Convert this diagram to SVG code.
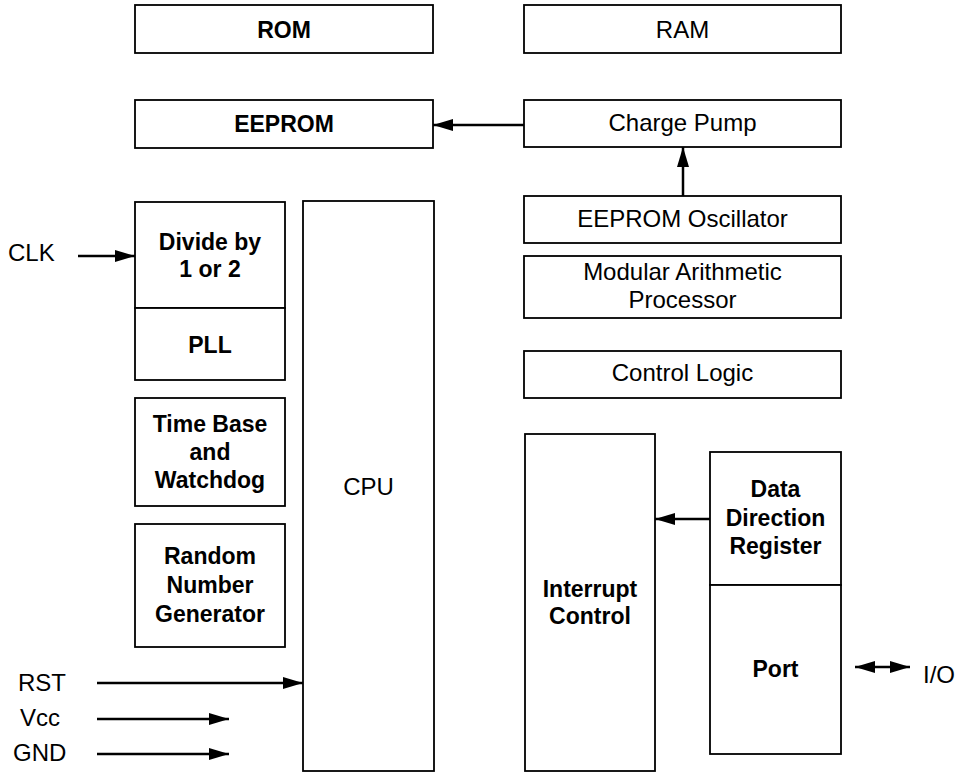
<svg xmlns="http://www.w3.org/2000/svg" width="963" height="773" viewBox="0 0 963 773">
<style>
.box{fill:#fff;stroke:#000;stroke-width:1.8}
.t{font-family:"Liberation Sans",Arial,sans-serif;font-size:23px;font-weight:bold;fill:#000;text-anchor:middle}
.tn{font-family:"Liberation Sans",Arial,sans-serif;font-size:24px;fill:#000;text-anchor:middle}
.lbl{font-family:"Liberation Sans",Arial,sans-serif;font-size:24px;fill:#000}
.wire{stroke:#000;stroke-width:2.5;fill:none}
</style>
<defs>
<marker id="ah" markerUnits="userSpaceOnUse" markerWidth="20" markerHeight="12" refX="20" refY="6" orient="auto-start-reverse" viewBox="0 0 20 12">
<path d="M0,0 L20,6 L0,12 z" fill="#000"/>
</marker>
</defs>

<g id="rom"><rect class="box" x="135" y="5" width="298" height="48"/><text class="t" x="284" y="38">ROM</text></g>
<g id="ram"><rect class="box" x="524" y="5" width="317" height="48"/><text class="tn" x="682.5" y="38">RAM</text></g>
<g id="eeprom"><rect class="box" x="135" y="100" width="298" height="48"/><text class="t" x="284" y="132">EEPROM</text></g>
<g id="chargepump"><rect class="box" x="524" y="100" width="317" height="47"/><text class="tn" x="682.5" y="131">Charge Pump</text></g>
<g id="eepromosc"><rect class="box" x="524" y="196" width="317" height="47"/><text class="tn" x="682.5" y="227">EEPROM Oscillator</text></g>
<g id="map"><rect class="box" x="524" y="256" width="317" height="62"/><text class="tn" x="682.5" y="280">Modular Arithmetic</text><text class="tn" x="682.5" y="308">Processor</text></g>
<g id="controllogic"><rect class="box" x="524" y="351" width="317" height="47"/><text class="tn" x="682.5" y="381">Control Logic</text></g>

<g id="divide"><rect class="box" x="135" y="202" width="150" height="106"/><text class="t" x="210" y="250">Divide by</text><text class="t" x="210" y="277">1 or 2</text></g>
<g id="pll"><rect class="box" x="135" y="308" width="150" height="72"/><text class="t" x="210" y="353">PLL</text></g>
<g id="timebase"><rect class="box" x="135" y="398" width="150" height="108"/><text class="t" x="210" y="432">Time Base</text><text class="t" x="210" y="460">and</text><text class="t" x="210" y="488">Watchdog</text></g>
<g id="rng"><rect class="box" x="135" y="524" width="150" height="123"/><text class="t" x="210" y="564">Random</text><text class="t" x="210" y="593">Number</text><text class="t" x="210" y="622">Generator</text></g>
<g id="cpu"><rect class="box" x="303" y="201" width="131" height="570"/><text class="tn" x="368.5" y="495">CPU</text></g>

<g id="interrupt"><rect class="box" x="525" y="434" width="130" height="337"/><text class="t" x="590" y="597">Interrupt</text><text class="t" x="590" y="624">Control</text></g>
<g id="ddr"><rect class="box" x="710" y="452" width="131" height="133"/><text class="t" x="775.5" y="497">Data</text><text class="t" x="775.5" y="526">Direction</text><text class="t" x="775.5" y="554">Register</text></g>
<g id="port"><rect class="box" x="710" y="585" width="131" height="169"/><text class="t" x="775.5" y="677">Port</text></g>

<g id="labels">
<text class="lbl" x="8" y="261">CLK</text>
<text class="lbl" x="18" y="691">RST</text>
<text class="lbl" x="20" y="726">Vcc</text>
<text class="lbl" x="13" y="761">GND</text>
<text class="lbl" x="923" y="683">I/O</text>
</g>

<g id="connectors">
<line class="wire" x1="78" y1="256" x2="135" y2="256" marker-end="url(#ah)"/>
<line class="wire" x1="97" y1="683" x2="303" y2="683" marker-end="url(#ah)"/>
<line class="wire" x1="97" y1="719" x2="229" y2="719" marker-end="url(#ah)"/>
<line class="wire" x1="97" y1="754" x2="229" y2="754" marker-end="url(#ah)"/>
<line class="wire" x1="524" y1="125" x2="433" y2="125" marker-end="url(#ah)"/>
<line class="wire" x1="683" y1="196" x2="683" y2="147" marker-end="url(#ah)"/>
<line class="wire" x1="710" y1="519" x2="655" y2="519" marker-end="url(#ah)"/>
<line class="wire" x1="855" y1="667" x2="910" y2="667" marker-start="url(#ah)" marker-end="url(#ah)"/>
</g>
</svg>
